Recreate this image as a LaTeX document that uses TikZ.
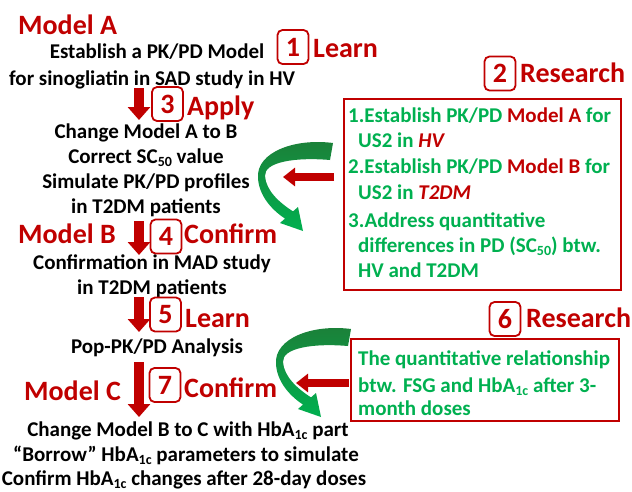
\documentclass[tikz,border=0pt]{standalone}
\usepackage{fontspec}
\setmainfont{Carlito}
\usetikzlibrary{arrows.meta}
\definecolor{dred}{HTML}{C00000}
\definecolor{lgreen}{HTML}{00B050}
\definecolor{dgreen}{HTML}{1C7F38}
% lowered index in the running text font
\newcommand\sbs[1]{\raisebox{-0.35ex}{\fontsize{14}{14}\selectfont #1}}

\begin{document}
\begin{tikzpicture}[x=1pt,y=-1pt,
  body/.style={font=\fontsize{21}{25}\selectfont\bfseries, inner sep=0pt, anchor=base},
  gline/.style={font=\fontsize{21}{25}\selectfont\bfseries, text=lgreen, inner sep=0pt, anchor=base west},
  head/.style={font=\fontsize{28}{30}\selectfont\bfseries, text=dred, inner sep=0pt, anchor=base west},
  numbox/.style={draw=dred, line width=1.8pt, rounded corners=5pt, text=dred,
    font=\fontsize{28}{30}\selectfont\bfseries, inner sep=0pt,
    minimum width=31pt, minimum height=34pt},
  redbox/.style={draw=dred, line width=2pt, anchor=north west, inner sep=0pt},
  downarrow/.style={draw=dred, line width=10pt, -{Triangle[width=22pt,length=13pt]}},
  sidearrow/.style={draw=dred, line width=8pt, -{Triangle[width=18pt,length=12pt]}},
  swoop/.pic={
    \shade[top color=dgreen, bottom color=lgreen]
      (333,143) .. controls (295,138) and (256,152) .. (258,178)
      .. controls (259,196) and (272,210) .. (285,218.6)
      -- (280,223) -- (303,231) -- (298,207) -- (293,211.4)
      .. controls (280,203) and (266,191) .. (265,176)
      .. controls (264,162) and (295,157) .. (330,160) -- cycle;
  }
]
\useasboundingbox (0,0) rectangle (632,491);

% model headings
\node[head] (mA) at (18,34) {Model A};
\node[head] (mB) at (18,243) {Model B};
\node[head] (mC) at (24,400) {Model C};

% main column of steps
\node[body] (t1) at (157,58) {Establish a PK/PD Model};
\node[body] (t2) at (152,85) {for sinogliatin in SAD study in HV};
\node[body] (t3) at (146,138) {Change Model A to B};
\node[body] (t4) at (146,163) {Correct SC\sbs{50} value};
\node[body] (t5) at (146,188) {Simulate PK/PD profiles};
\node[body] (t6) at (146,213) {in T2DM patients};
\node[body] (t7) at (152,269) {Confirmation in MAD study};
\node[body] (t8) at (152,294) {in T2DM patients};
\node[body] (t9) at (157,353) {Pop-PK/PD Analysis};
\node[body] (t10) at (188,436) {Change Model B to C with HbA\sbs{1c} part};
\node[body] (t11) at (186,461) {“Borrow” HbA\sbs{1c} parameters to simulate};
\node[body] (t12) at (184,485) {Confirm HbA\sbs{1c} changes after 28-day doses};

% numbered step tags
\node[numbox] (n1) at (293,47) {1};
\node[head] (l1) at (313,57) {Learn};
\node[numbox] (n3) at (167.5,104) {3};
\node[head] (l3) at (187,115) {Apply};
\node[numbox] (n4) at (166,236.5) {4};
\node[head] (l4) at (184,243) {Confirm};
\node[numbox] (n5) at (165.5,314.5) {5};
\node[head] (l5) at (185,327) {Learn};
\node[numbox] (n7) at (165,385) {7};
\node[head] (l7) at (184,397) {Confirm};
\node[numbox] (n2) at (500,73.5) {2};
\node[head] (l2) at (520,82) {Research};
\node[numbox] (n6) at (505,319) {6};
\node[head] (l6) at (526,327) {Research};

% research box 2
\node[redbox, minimum width=277pt, minimum height=191pt] (box2) at (343,98) {};
\node[gline] (g1) at (348,122) {1.Establish PK/PD \textcolor{dred}{Model A} for};
\node[gline] (g2) at (358,147) {US2 in \textcolor{dred}{\itshape HV}};
\node[gline] (g3) at (348,173) {2.Establish PK/PD \textcolor{dred}{Model B} for};
\node[gline] (g4) at (358,199) {US2 in \textcolor{dred}{\itshape T2DM}};
\node[gline] (g5) at (348,227) {3.Address quantitative};
\node[gline] (g6) at (358,252) {differences in PD (SC\sbs{50}) btw.};
\node[gline] (g7) at (358,277) {HV and T2DM};

% research box 6
\node[redbox, minimum width=268pt, minimum height=82pt] (box6) at (350,338) {};
\node[gline] (h1) at (358,365) {The quantitative relationship};
\node[gline] (h2) at (358,392) {btw. FSG and HbA\sbs{1c} after 3-};
\node[gline] (h3) at (358,415) {month doses};

% arrow end points
\coordinate (a3s) at (139,88);  \coordinate (a3e) at (139,120);
\coordinate (a4s) at (139,221); \coordinate (a4e) at (139,255);
\coordinate (a5s) at (139,297); \coordinate (a5e) at (139,332);
\coordinate (a7s) at (139,362); \coordinate (a7e) at (139,417);
\coordinate (r1s) at (334,177); \coordinate (r1e) at (283,177);
\coordinate (r2s) at (349,383); \coordinate (r2e) at (296,383);

\draw[downarrow] (a3s) -- (a3e);
\draw[downarrow] (a4s) -- (a4e);
\draw[downarrow] (a5s) -- (a5e);
\draw[downarrow] (a7s) -- (a7e);

% curved feedback arrows
\pic at (0,0) {swoop};
\pic at (18,186) {swoop};

\draw[sidearrow] (r1s) -- (r1e);
\draw[sidearrow] (r2s) -- (r2e);
\end{tikzpicture}
\end{document}
